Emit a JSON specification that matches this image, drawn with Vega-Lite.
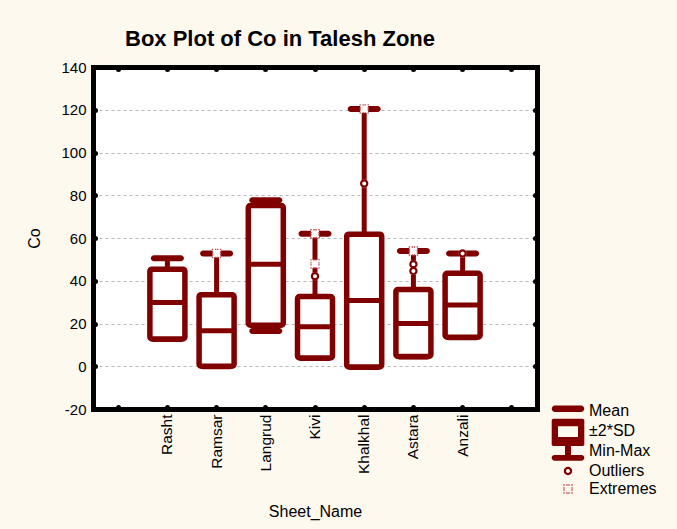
{
  "$schema": "https://vega.github.io/schema/vega-lite/v6.json",
  "width": 444,
  "height": 342,
  "autosize": {"type": "none"},
  "padding": {"left": 93, "top": 67, "right": 140, "bottom": 120},
  "background": "#FEF9EF",
  "title": {
    "text": "Box Plot of Co in Talesh Zone",
    "anchor": "start",
    "frame": "group",
    "dx": 32,
    "offset": 9,
    "fontSize": 22,
    "font": "Liberation Sans",
    "fontWeight": "bold",
    "color": "#000000"
  },
  "config": {
    "view": {"fill": "white", "stroke": null},
    "axis": {
      "domainColor": "#000000",
      "domainWidth": 5,
      "domainCap": "square",
      "tickColor": "#000000",
      "tickWidth": 5,
      "tickSize": -2,
      "tickCap": "round",
      "labelFont": "Liberation Sans",
      "labelColor": "#000000",
      "titleFont": "Liberation Sans",
      "titleColor": "#000000",
      "titleFontWeight": "normal"
    },
    "legend": {
      "symbolSize": 400,
      "rowPadding": 0,
      "padding": 0,
      "labelOffset": 11,
      "labelFontSize": 16,
      "labelFont": "Liberation Sans",
      "labelColor": "#000000",
      "symbolStrokeWidth": 0,
      "symbolStrokeColor": "transparent",
      "symbolOpacity": 1
    }
  },
  "datasets": {
    "stats": [
      {"Site": "Rasht", "min": 12.8, "lo": 12.8, "mean": 29.8, "hi": 45.4, "max": 50.5},
      {"Site": "Ramsar", "min": 0, "lo": 0, "mean": 16.6, "hi": 33.5, "max": 52.8},
      {"Site": "Langrud", "min": 16.5, "lo": 19.2, "mean": 47.7, "hi": 75.2, "max": 77.7},
      {"Site": "Kivi", "min": 3.9, "lo": 3.9, "mean": 18.5, "hi": 32.6, "max": 62.0},
      {"Site": "Khalkhal", "min": -0.3, "lo": -0.3, "mean": 30.8, "hi": 61.8, "max": 120.4},
      {"Site": "Astara", "min": 4.6, "lo": 4.6, "mean": 20.0, "hi": 35.9, "max": 53.9},
      {"Site": "Anzali", "min": 13.6, "lo": 13.6, "mean": 28.7, "hi": 43.5, "max": 52.8}
    ],
    "outliers": [
      {"Site": "Kivi", "v": 42.1, "kind": "Outliers"},
      {"Site": "Khalkhal", "v": 85.5, "kind": "Outliers"},
      {"Site": "Astara", "v": 47.7, "kind": "Outliers"},
      {"Site": "Astara", "v": 44.6, "kind": "Outliers"},
      {"Site": "Anzali", "v": 52.8, "kind": "Outliers"}
    ],
    "extremes": [
      {"Site": "Ramsar", "v": 52.8, "kind": "Extremes"},
      {"Site": "Kivi", "v": 62.0, "kind": "Extremes"},
      {"Site": "Kivi", "v": 47.9, "kind": "Extremes"},
      {"Site": "Khalkhal", "v": 120.4, "kind": "Extremes"},
      {"Site": "Astara", "v": 53.9, "kind": "Extremes"}
    ]
  },
  "layer": [
    {
      "data": {"name": "stats"},
      "mark": {"type": "rule", "color": "#800000", "strokeWidth": 5, "opacity": 1},
      "encoding": {
        "x": {
          "field": "Site", "type": "nominal", "sort": null,
          "scale": {"type": "band", "domain": ["L", "Rasht", "Ramsar", "Langrud", "Kivi", "Khalkhal", "Astara", "Anzali", "R"], "paddingInner": 0.27, "paddingOuter": 0.147},
          "axis": {
            "orient": "bottom",
            "labelExpr": "datum.value == 'L' || datum.value == 'R' ? '' : datum.value",
            "labelAngle": 270,
            "labelFontSize": 15.5,
            "labelPadding": 7,
            "title": "Sheet_Name",
            "titleFontSize": 16,
            "titlePadding": 30,
            "grid": false
          }
        },
        "y": {
          "field": "min", "type": "quantitative",
          "scale": {"domain": [-20, 140], "nice": false, "zero": false},
          "axis": {
            "orient": "left",
            "values": [-20, 0, 20, 40, 60, 80, 100, 120, 140],
            "labelExpr": "datum.value < 0 ? '-' + abs(datum.value) : '' + datum.value",
            "grid": true,
            "gridDash": [3, 3],
            "gridColor": "#b8b8b8",
            "gridWidth": 1,
            "labelFontSize": 15,
            "labelPadding": 9,
            "title": "Co",
            "titleFontSize": 16,
            "titlePadding": 18
          }
        },
        "y2": {"field": "max"}
      }
    },
    {
      "data": {"name": "stats"},
      "mark": {"type": "tick", "color": "#800000", "thickness": 6, "size": 33, "cornerRadius": 3, "opacity": 1},
      "encoding": {
        "x": {
          "field": "Site", "type": "nominal", "sort": null,
          "scale": {"type": "band"},
          "axis": {"orient": "top", "labels": false, "title": null, "grid": false}
        },
        "y": {
          "field": "max", "type": "quantitative",
          "axis": {"orient": "right", "labels": false, "title": null, "grid": false, "values": [-20, 0, 20, 40, 60, 80, 100, 120, 140]}
        }
      }
    },
    {
      "data": {"name": "stats"},
      "mark": {"type": "tick", "color": "#800000", "thickness": 6, "size": 33, "cornerRadius": 3, "opacity": 1},
      "encoding": {
        "x": {"field": "Site", "type": "nominal", "sort": null, "scale": {"type": "band"}, "axis": null},
        "y": {"field": "min", "type": "quantitative", "axis": null}
      }
    },
    {
      "data": {"name": "stats"},
      "mark": {"type": "bar", "fill": "white", "stroke": "#800000", "strokeWidth": 5.5, "width": 35, "cornerRadius": 2, "opacity": 1, "fillOpacity": 1, "strokeOpacity": 1},
      "encoding": {
        "x": {"field": "Site", "type": "nominal", "sort": null, "scale": {"type": "band"}, "axis": null},
        "y": {"field": "lo", "type": "quantitative", "axis": null},
        "y2": {"field": "hi"}
      }
    },
    {
      "data": {"name": "stats"},
      "mark": {"type": "tick", "color": "#800000", "thickness": 5, "size": 36, "opacity": 1},
      "encoding": {
        "x": {"field": "Site", "type": "nominal", "sort": null, "scale": {"type": "band"}, "axis": null},
        "y": {"field": "mean", "type": "quantitative", "axis": null}
      }
    },
    {
      "data": {"name": "outliers"},
      "mark": {"type": "point", "shape": "circle", "filled": true, "color": "white", "size": 64, "opacity": 1},
      "encoding": {
        "x": {"field": "Site", "type": "nominal", "sort": null, "scale": {"type": "band"}, "axis": null},
        "y": {"field": "v", "type": "quantitative", "axis": null}
      }
    },
    {
      "data": {"name": "extremes"},
      "mark": {"type": "point", "shape": "square", "filled": true, "color": "white", "size": 64, "opacity": 1},
      "encoding": {
        "x": {"field": "Site", "type": "nominal", "sort": null, "scale": {"type": "band"}, "axis": null},
        "y": {"field": "v", "type": "quantitative", "axis": null}
      }
    },
    {
      "data": {"name": "outliers"},
      "mark": {"type": "point", "filled": true, "size": 400, "opacity": 1, "strokeWidth": 0},
      "encoding": {
        "x": {"field": "Site", "type": "nominal", "sort": null, "scale": {"type": "band"}, "axis": null},
        "y": {"field": "v", "type": "quantitative", "axis": null},
        "shape": {
          "field": "kind", "type": "nominal",
          "scale": {
            "domain": ["Mean", "±2*SD", "Min-Max", "Outliers", "Extremes"],
            "range": [
              "M-1.3,-0.56H1.3A0.325,0.325 0 0 1 1.3,0.09H-1.3A0.325,0.325 0 0 1 -1.3,-0.56Z M-1.5,0.78H1.5L1.63,0.9V1H-1.63V0.9Z",
              "M-1.63,-1H1.63V1H-1.63Z M-1.0,-0.47V0.6H1.0V-0.47Z",
              "M-1.63,-1H1.63V-0.6L1.5,-0.5H-1.5L-1.63,-0.6Z M-0.3,-0.55H0.3V0.45H-0.3Z M-1.35,0.4H1.35A0.285,0.285 0 0 1 1.35,0.97H-1.35A0.285,0.285 0 0 1 -1.35,0.4Z",
              "M0,-0.42A0.42,0.42 0 1 1 0,0.42A0.42,0.42 0 1 1 0,-0.42Z M0,-0.2A0.2,0.2 0 1 0 0,0.2A0.2,0.2 0 1 0 0,-0.2Z",
              "M-0.47,-0.47h0.14v0.14h-0.14Z M-0.17,-0.47h0.14v0.14h-0.14Z M0.03,-0.47h0.14v0.14h-0.14Z M0.33,-0.47h0.14v0.14h-0.14Z M-0.47,-0.17h0.14v0.14h-0.14Z M0.33,-0.17h0.14v0.14h-0.14Z M-0.47,0.03h0.14v0.14h-0.14Z M0.33,0.03h0.14v0.14h-0.14Z M-0.47,0.33h0.14v0.14h-0.14Z M-0.17,0.33h0.14v0.14h-0.14Z M0.03,0.33h0.14v0.14h-0.14Z M0.33,0.33h0.14v0.14h-0.14Z"
            ]
          },
          "legend": {"orient": "none", "legendX": 465, "legendY": 334, "title": null}
        },
        "fill": {
          "field": "kind", "type": "nominal",
          "scale": {
            "domain": ["Mean", "±2*SD", "Min-Max", "Outliers", "Extremes"],
            "range": ["#800000", "#800000", "#800000", "#800000", "#c04848"]
          },
          "legend": {"orient": "none", "legendX": 465, "legendY": 334, "title": null}
        }
      }
    },
    {
      "data": {"name": "extremes"},
      "mark": {"type": "point", "filled": true, "size": 400, "opacity": 1, "strokeWidth": 0},
      "encoding": {
        "x": {"field": "Site", "type": "nominal", "sort": null, "scale": {"type": "band"}, "axis": null},
        "y": {"field": "v", "type": "quantitative", "axis": null},
        "shape": {"field": "kind", "type": "nominal", "legend": {"orient": "none", "legendX": 465, "legendY": 334, "title": null}},
        "fill": {"field": "kind", "type": "nominal", "legend": {"orient": "none", "legendX": 465, "legendY": 334, "title": null}}
      }
    }
  ],
  "resolve": {"axis": {"x": "independent", "y": "independent"}}
}
